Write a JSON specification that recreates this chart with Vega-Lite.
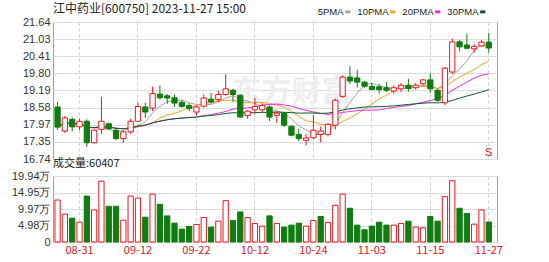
{
  "$schema": "https://vega.github.io/schema/vega-lite/v6.json",
  "background": "white",
  "padding": {"left": 10, "top": 2, "right": 52, "bottom": 0},
  "data": {"values": [
    {"d":"08-28","o":18.60,"h":18.78,"l":17.78,"c":17.88,"v":126800},
    {"d":"08-29","o":17.74,"h":18.28,"l":17.67,"c":18.21,"v":84000},
    {"d":"08-30","o":18.16,"h":18.23,"l":17.73,"c":17.89,"v":72000},
    {"d":"08-31","o":17.89,"h":18.18,"l":17.77,"c":18.09,"v":60000},
    {"d":"09-01","o":18.09,"h":18.16,"l":17.17,"c":17.32,"v":138800},
    {"d":"09-04","o":17.32,"h":17.80,"l":17.30,"c":17.77,"v":96900},
    {"d":"09-05","o":17.80,"h":18.96,"l":17.64,"c":18.09,"v":183800},
    {"d":"09-06","o":18.00,"h":18.04,"l":17.77,"c":17.82,"v":107900},
    {"d":"09-07","o":17.77,"h":17.82,"l":17.41,"c":17.47,"v":107900},
    {"d":"09-08","o":17.47,"h":17.77,"l":17.32,"c":17.71,"v":66000},
    {"d":"09-11","o":17.71,"h":18.18,"l":17.64,"c":18.09,"v":138800},
    {"d":"09-12","o":18.09,"h":18.75,"l":18.06,"c":18.62,"v":132800},
    {"d":"09-13","o":18.60,"h":18.75,"l":18.21,"c":18.42,"v":75000},
    {"d":"09-14","o":18.56,"h":19.33,"l":18.45,"c":19.08,"v":144800},
    {"d":"09-15","o":19.06,"h":19.37,"l":18.86,"c":18.93,"v":113900},
    {"d":"09-18","o":19.00,"h":19.07,"l":18.71,"c":18.92,"v":78900},
    {"d":"09-19","o":18.93,"h":19.05,"l":18.60,"c":18.74,"v":57000},
    {"d":"09-20","o":18.77,"h":18.85,"l":18.58,"c":18.62,"v":39000},
    {"d":"09-21","o":18.65,"h":18.74,"l":18.46,"c":18.55,"v":47100},
    {"d":"09-22","o":18.42,"h":18.66,"l":18.30,"c":18.60,"v":53100},
    {"d":"09-25","o":18.63,"h":19.05,"l":18.58,"c":18.92,"v":74100},
    {"d":"09-26","o":18.88,"h":19.10,"l":18.72,"c":18.78,"v":45000},
    {"d":"09-27","o":18.86,"h":19.17,"l":18.78,"c":19.05,"v":63000},
    {"d":"09-28","o":19.05,"h":19.77,"l":19.00,"c":19.25,"v":125000},
    {"d":"10-09","o":19.20,"h":19.25,"l":18.78,"c":19.05,"v":65100},
    {"d":"10-10","o":19.02,"h":19.05,"l":18.22,"c":18.24,"v":90900},
    {"d":"10-11","o":18.30,"h":18.48,"l":18.18,"c":18.45,"v":74100},
    {"d":"10-12","o":18.50,"h":18.93,"l":18.36,"c":18.62,"v":56100},
    {"d":"10-13","o":18.50,"h":18.74,"l":18.38,"c":18.66,"v":48000},
    {"d":"10-16","o":18.60,"h":18.66,"l":18.10,"c":18.24,"v":78900},
    {"d":"10-17","o":18.30,"h":18.45,"l":18.03,"c":18.38,"v":56100},
    {"d":"10-18","o":18.38,"h":18.42,"l":17.88,"c":17.95,"v":45000},
    {"d":"10-19","o":17.91,"h":17.94,"l":17.55,"c":17.59,"v":51000},
    {"d":"10-20","o":17.62,"h":17.82,"l":17.38,"c":17.47,"v":57000},
    {"d":"10-23","o":17.41,"h":17.62,"l":17.23,"c":17.49,"v":48000},
    {"d":"10-24","o":17.50,"h":18.30,"l":17.45,"c":17.77,"v":65100},
    {"d":"10-25","o":17.62,"h":17.90,"l":17.33,"c":17.74,"v":77100},
    {"d":"10-26","o":17.62,"h":18.03,"l":17.55,"c":17.98,"v":59100},
    {"d":"10-27","o":17.95,"h":18.90,"l":17.79,"c":18.84,"v":110900},
    {"d":"10-30","o":18.98,"h":19.73,"l":18.93,"c":19.67,"v":144800},
    {"d":"10-31","o":19.67,"h":20.06,"l":19.43,"c":19.53,"v":101900},
    {"d":"11-01","o":19.64,"h":19.93,"l":19.29,"c":19.49,"v":51000},
    {"d":"11-02","o":19.49,"h":19.53,"l":19.29,"c":19.34,"v":36900},
    {"d":"11-03","o":19.34,"h":19.46,"l":19.20,"c":19.23,"v":48000},
    {"d":"11-06","o":19.32,"h":19.43,"l":19.08,"c":19.22,"v":60000},
    {"d":"11-07","o":19.29,"h":19.49,"l":19.14,"c":19.20,"v":51000},
    {"d":"11-08","o":19.17,"h":19.38,"l":19.08,"c":19.29,"v":51000},
    {"d":"11-09","o":19.25,"h":19.46,"l":19.14,"c":19.38,"v":56100},
    {"d":"11-10","o":19.38,"h":19.61,"l":19.14,"c":19.26,"v":63000},
    {"d":"11-13","o":19.29,"h":19.46,"l":19.22,"c":19.38,"v":45000},
    {"d":"11-14","o":19.43,"h":19.61,"l":19.38,"c":19.57,"v":42900},
    {"d":"11-15","o":19.57,"h":19.79,"l":19.10,"c":19.25,"v":77100},
    {"d":"11-16","o":19.20,"h":19.25,"l":18.78,"c":18.84,"v":63000},
    {"d":"11-17","o":18.75,"h":20.03,"l":18.66,"c":19.99,"v":137000},
    {"d":"11-20","o":19.85,"h":21.04,"l":19.79,"c":20.93,"v":185000},
    {"d":"11-21","o":20.93,"h":21.00,"l":20.59,"c":20.75,"v":101900},
    {"d":"11-22","o":20.82,"h":21.22,"l":20.66,"c":20.70,"v":86100},
    {"d":"11-23","o":20.68,"h":20.85,"l":20.55,"c":20.76,"v":54000},
    {"d":"11-24","o":20.78,"h":20.99,"l":20.75,"c":20.92,"v":96900},
    {"d":"11-27","o":20.92,"h":21.25,"l":20.54,"c":20.71,"v":60407}
  ]},
  "transform": [
    {"window": [{"op": "mean", "field": "c", "as": "5PMA"}], "frame": [-4, 0], "sort": [{"field": "d"}]},
    {"window": [{"op": "mean", "field": "c", "as": "10PMA"}], "frame": [-9, 0], "sort": [{"field": "d"}]},
    {"window": [{"op": "mean", "field": "c", "as": "20PMA"}], "frame": [-19, 0], "sort": [{"field": "d"}]},
    {"window": [{"op": "mean", "field": "c", "as": "30PMA"}], "frame": [-29, 0], "sort": [{"field": "d"}]},
    {"window": [{"op": "lag", "field": "c", "as": "prev"}], "sort": [{"field": "d"}]}
  ],
  "spacing": -8,
  "vconcat": [
    {
      "width": 444,
      "height": 137,
      "title": {"text": "江中药业[600750] 2023-11-27 15:00", "anchor": "start", "frame": "group", "font": "Noto Sans CJK SC", "fontSize": 12, "fontWeight": "normal", "color": "#222", "offset": 0},
      "layer": [
        {
          "data": {"values": [{"d": "10-19", "p": 19.15, "t": "东方财富"}]},
          "transform": [],
          "mark": {"type": "text", "font": "Noto Sans CJK SC", "fontSize": 30, "fontWeight": "bold", "color": "#eeeeee", "baseline": "middle", "align": "center"},
          "encoding": {
            "x": {"field": "d", "type": "ordinal"},
            "y": {"field": "p", "type": "quantitative"},
            "text": {"field": "t"}
          }
        },
        {
          "transform": [{"fold": ["5PMA", "10PMA", "20PMA", "30PMA"], "as": ["ma", "mv"]}],
          "mark": {"type": "line", "strokeWidth": 1, "interpolate": "linear"},
          "encoding": {
            "x": {"field": "d", "type": "ordinal"},
            "y": {"field": "mv", "type": "quantitative"},
            "color": {"field": "ma", "type": "nominal",
              "scale": {"domain": ["5PMA", "10PMA", "20PMA", "30PMA"], "range": ["#a6a6a6", "#f5a326", "#ee2bee", "#0b5e2c"]},
              "legend": {"orient": "none", "legendX": 290, "legendY": -15, "direction": "horizontal", "title": null,
                "symbolType": "stroke", "symbolStrokeWidth": 3, "symbolSize": 28, "labelAlign": "right", "labelOffset": -9,
                "labelFont": "Liberation Sans", "labelFontSize": 9.5, "labelColor": "#222", "columnPadding": 0}}
          }
        },
        {
          "mark": {"type": "rule", "strokeWidth": 1},
          "encoding": {
            "x": {"field": "d", "type": "ordinal"},
            "y": {"field": "l", "type": "quantitative"},
            "y2": {"field": "h"},
            "color": {"condition": {"test": "datum.c >= datum.o", "value": "#f0141c"}, "value": "#0f7d0f"}
          }
        },
        {
          "mark": {"type": "bar", "width": {"band": 0.72}, "strokeWidth": 1},
          "encoding": {
            "x": {"field": "d", "type": "ordinal"},
            "y": {"field": "o", "type": "quantitative"},
            "y2": {"field": "c"},
            "fill": {"condition": {"test": "datum.c >= datum.o", "value": "#ffffff"}, "value": "#0f7d0f"},
            "stroke": {"condition": {"test": "datum.c >= datum.o", "value": "#f0141c"}, "value": "#0f7d0f"}
          }
        },
        {
          "data": {"values": [{"d": "11-27", "p": 16.95, "t": "S"}]},
          "transform": [],
          "mark": {"type": "text", "font": "Liberation Sans", "fontSize": 11, "color": "#e0141c", "baseline": "middle", "align": "center"},
          "encoding": {
            "x": {"field": "d", "type": "ordinal"},
            "y": {"field": "p", "type": "quantitative"},
            "text": {"field": "t"}
          }
        }
      ],
      "encoding": {
        "x": {"field": "d", "type": "ordinal", "sort": "ascending",
          "scale": {"paddingInner": 0, "paddingOuter": 0.375, "align": 0.17},
          "axis": {"title": null, "labels": false, "ticks": false, "domain": false, "grid": true, "gridDash": [3, 3], "gridColor": "#cfcfcf",
            "values": ["08-31", "09-12", "09-22", "10-12", "10-24", "11-03", "11-15", "11-27"]}},
        "y": {"type": "quantitative",
          "scale": {"domain": [16.74, 21.64], "nice": false, "zero": false},
          "axis": {"title": null, "values": [16.74, 17.35, 17.97, 18.58, 19.19, 19.80, 20.41, 21.03, 21.64], "format": ".2f", "grid": true, "gridColor": "#dcdcdc", "labelPadding": 3}}
      },
      "resolve": {"scale": {"x": "shared", "y": "shared"}}
    },
    {
      "width": 444,
      "height": 66,
      "title": {"text": "成交量:60407", "anchor": "start", "frame": "group", "font": "Noto Sans CJK SC", "fontSize": 11, "fontWeight": "normal", "color": "#222", "offset": 1},
      "mark": {"type": "bar", "width": {"band": 0.72}, "strokeWidth": 1},
      "encoding": {
        "x": {"field": "d", "type": "ordinal", "sort": "ascending",
          "scale": {"paddingInner": 0, "paddingOuter": 0.375, "align": 0.17},
          "axis": {"title": null, "ticks": false, "domain": false, "grid": true, "gridDash": [3, 3], "gridColor": "#cfcfcf", "labelAngle": 0,
            "labelColor": "#e0141c", "labelFont": "Noto Sans CJK SC", "labelFontSize": 11, "labelPadding": 2,
            "values": ["08-31", "09-12", "09-22", "10-12", "10-24", "11-03", "11-15", "11-27"]}},
        "y": {"field": "v", "type": "quantitative",
          "scale": {"domain": [0, 199400], "nice": false},
          "axis": {"title": null, "values": [0, 49800, 99700, 149500, 199400], "labelExpr": "datum.value == 0 ? '0' : format(datum.value / 10000, '.2f') + '万'", "grid": true, "gridColor": "#dcdcdc", "labelPadding": 3}},
        "fill": {"condition": {"test": "!isValid(datum.prev) || datum.c >= datum.prev", "value": "#ffffff"}, "value": "#0f7d0f"},
        "stroke": {"condition": {"test": "!isValid(datum.prev) || datum.c >= datum.prev", "value": "#f0141c"}, "value": "#0f7d0f"}
      }
    }
  ],
  "config": {
    "view": {"stroke": "#a0a0a0", "strokeWidth": 1},
    "axis": {"labelFont": "Liberation Sans", "labelFontSize": 11, "labelColor": "#333", "ticks": false, "domain": false}
  }
}
